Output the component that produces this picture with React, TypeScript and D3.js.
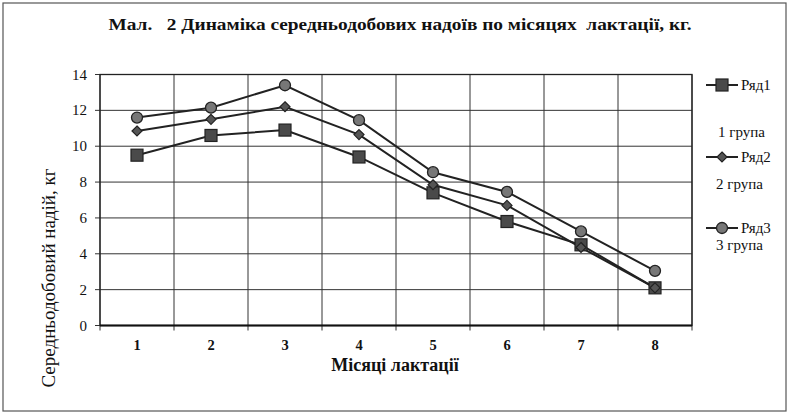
import React from "react";
import * as d3 from "d3";

const categories = ["1", "2", "3", "4", "5", "6", "7", "8"];
const series1 = [9.5, 10.6, 10.9, 9.4, 7.4, 5.8, 4.5, 2.1];
const series2 = [10.85, 11.5, 12.2, 10.65, 7.85, 6.7, 4.35, 2.1];
const series3 = [11.6, 12.15, 13.4, 11.45, 8.55, 7.45, 5.25, 3.05];
const yTicks = [0, 2, 4, 6, 8, 10, 12, 14];
const seriesNames = ["Ряд1", "Ряд2", "Ряд3"];
const groupNames = ["1 група", "2 група", "3 група"];
const title = "Мал.   2 Динаміка середньодобових надоїв по місяцях  лактації, кг.";
const xTitle = "Місяці лактації";
const yTitle = "Середньодобовий надій, кг";

const W = 789, H = 416;
const L = 100, R = 692, T = 74.5, B = 325.5;
const serif = "Times New Roman, Liberation Serif, serif";

function Marker({ kind, x, y }: { kind: number; x: number; y: number }) {
  if (kind === 0)
    return <rect x={x - 6} y={y - 6} width={12} height={12} fill="#4a4a4a" stroke="#222" strokeWidth={1.2} />;
  if (kind === 1)
    return <path d={`M${x},${y - 5}L${x + 5},${y}L${x},${y + 5}L${x - 5},${y}Z`} fill="#555" stroke="#222" strokeWidth={1.2} />;
  return <circle cx={x} cy={y} r={5.5} fill="#777" stroke="#222" strokeWidth={1.3} />;
}

export default function App() {
  const x = d3.scaleBand<string>().domain(categories).range([L, R]);
  const y = d3.scaleLinear().domain([0, 14]).range([B, T]);
  const cx = (c: string) => (x(c) as number) + x.bandwidth() / 2;
  const line = d3.line<number>().x((_, i) => cx(categories[i])).y((v) => y(v));
  const all = [series1, series2, series3];
  const boundaries = categories.map((c) => x(c) as number).concat([R]);
  const legendY = [85, 157, 228];
  const groupY = [137, 189, 250];
  const groupX = [718, 716, 716];

  return (
    <svg width={W} height={H} style={{ position: "absolute", left: 0, top: 0, background: "#fff" }}>
      <rect x={3} y={3} width={783} height={408} fill="#fff" stroke="#555" strokeWidth={1.2} />
      <text x={400} y={30} textAnchor="middle" style={{ fontFamily: serif }} fontWeight="bold" fontSize={16.5} fill="#111" textLength={583} lengthAdjust="spacingAndGlyphs" xmlSpace="preserve">
        {title}
      </text>
      {yTicks.map((t) => (
        <g key={t}>
          <line x1={L - 5} x2={R} y1={y(t)} y2={y(t)} stroke="#333" strokeWidth={1} />
          <text x={L - 13} y={y(t) + 5} textAnchor="end" style={{ fontFamily: serif }} fontSize={15} fill="#111">{t}</text>
        </g>
      ))}
      {boundaries.map((b, i) => (
        <line key={i} x1={b} x2={b} y1={T} y2={B + 5} stroke="#333" strokeWidth={1} />
      ))}
      <rect x={L} y={T} width={R - L} height={B - T} fill="none" stroke="#222" strokeWidth={1.3} />
      <line x1={L} x2={R} y1={B} y2={B} stroke="#111" strokeWidth={2} />
      {categories.map((c) => (
        <text key={c} x={cx(c)} y={350} textAnchor="middle" style={{ fontFamily: serif }} fontWeight="bold" fontSize={14.5} fill="#111">{c}</text>
      ))}
      <text x={395} y={371} textAnchor="middle" style={{ fontFamily: serif }} fontWeight="bold" fontSize={18} fill="#111">{xTitle}</text>
      <text transform={`translate(55,278) rotate(-90)`} textAnchor="middle" style={{ fontFamily: serif }} fontSize={19} fill="#111">{yTitle}</text>
      {all.map((s, k) => (
        <path key={k} d={line(s) as string} fill="none" stroke="#222" strokeWidth={2} />
      ))}
      {all.map((s, k) =>
        s.map((v, i) => <Marker key={`${k}-${i}`} kind={k} x={cx(categories[i])} y={y(v)} />)
      )}
      {seriesNames.map((n, k) => (
        <g key={n}>
          <line x1={706} x2={738} y1={legendY[k]} y2={legendY[k]} stroke="#222" strokeWidth={2} />
          <Marker kind={k} x={722} y={legendY[k]} />
          <text x={741} y={legendY[k] + 5} style={{ fontFamily: serif }} fontSize={15} fill="#111">{n}</text>
        </g>
      ))}
      {groupNames.map((g, k) => (
        <text key={g} x={groupX[k]} y={groupY[k]} style={{ fontFamily: serif }} fontSize={15} fill="#111">{g}</text>
      ))}
    </svg>
  );
}
